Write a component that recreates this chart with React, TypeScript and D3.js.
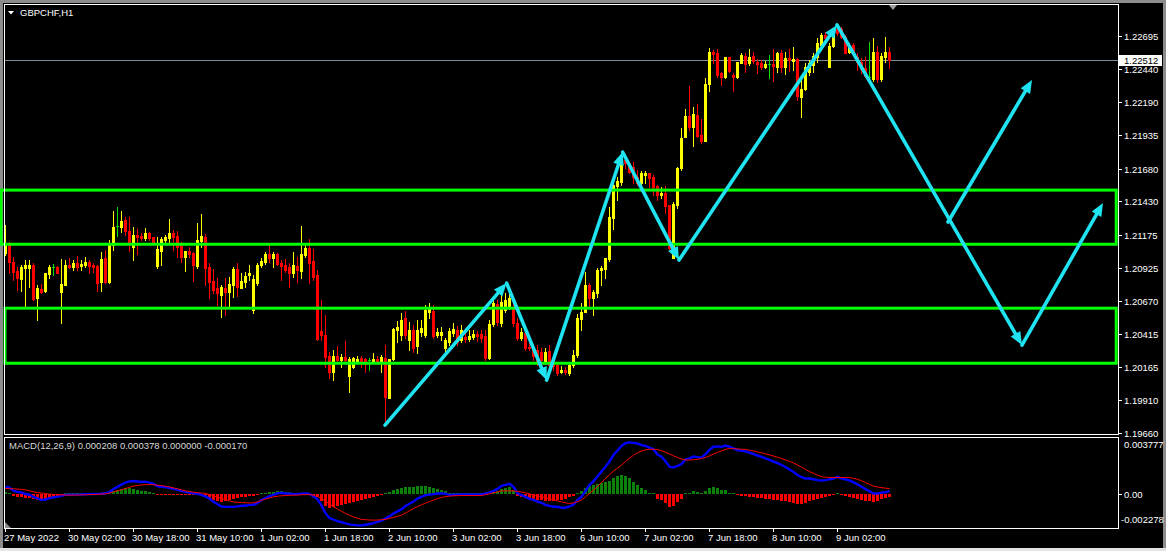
import React from "react";
import * as d3 from "d3";

const symbolTitle = "GBPCHF,H1";
const macdTitle = "MACD(12,26,9) 0.000208 0.000378 0.000000 -0.000170";

// H1 bars, 27 May 2022 10:00 .. 9 Jun 2022 15:00 : [open, high, low, close]
const ohlc: [number, number, number, number][] = [
  [1.21036, 1.2125, 1.21021, 1.21112], [1.21097, 1.2112, 1.20883, 1.20967], [1.20967, 1.21005, 1.20829, 1.20891], [1.20898, 1.20928, 1.20753, 1.20845],
  [1.20837, 1.20944, 1.20745, 1.20928], [1.20921, 1.20982, 1.20622, 1.20944], [1.20921, 1.20982, 1.20775, 1.20944], [1.20944, 1.20959, 1.20676, 1.20684],
  [1.20692, 1.20791, 1.20523, 1.20768], [1.2076, 1.20798, 1.2073, 1.20738], [1.20745, 1.20883, 1.20738, 1.20883], [1.20875, 1.20944, 1.20845, 1.20928],
  [1.20928, 1.20951, 1.20868, 1.20928], [1.20928, 1.20936, 1.20883, 1.20883], [1.20738, 1.2099, 1.205, 1.20798], [1.20791, 1.20982, 1.20791, 1.20944],
  [1.20944, 1.20998, 1.20921, 1.20928], [1.20928, 1.20982, 1.20906, 1.20959], [1.20959, 1.21013, 1.20906, 1.20928], [1.20936, 1.20982, 1.20906, 1.20951],
  [1.20944, 1.21005, 1.20928, 1.20967], [1.20967, 1.20982, 1.20883, 1.20936], [1.20944, 1.20959, 1.20891, 1.20928], [1.20936, 1.20944, 1.20745, 1.20806],
  [1.20814, 1.21044, 1.20745, 1.2099], [1.20998, 1.21059, 1.20806, 1.20814], [1.20814, 1.21135, 1.20806, 1.21097], [1.21097, 1.21357, 1.21059, 1.21234],
  [1.21242, 1.21387, 1.21166, 1.21242], [1.21234, 1.21357, 1.21197, 1.2128], [1.21288, 1.21311, 1.21174, 1.21204], [1.21204, 1.21311, 1.21051, 1.21112],
  [1.21081, 1.21234, 1.20982, 1.21174], [1.21174, 1.21219, 1.21028, 1.21158], [1.21166, 1.21189, 1.21135, 1.21151], [1.21151, 1.21227, 1.21135, 1.21189],
  [1.21189, 1.21197, 1.21135, 1.21151], [1.21158, 1.21158, 1.21097, 1.21112], [1.20936, 1.21158, 1.20921, 1.21066], [1.21051, 1.21158, 1.20944, 1.21143],
  [1.21135, 1.21174, 1.2112, 1.21158], [1.21151, 1.21296, 1.2112, 1.21189], [1.21189, 1.21212, 1.21059, 1.21158], [1.21166, 1.21204, 1.21005, 1.21081],
  [1.21097, 1.2112, 1.20967, 1.21005], [1.21005, 1.21051, 1.20898, 1.21051], [1.21051, 1.21081, 1.21005, 1.21028], [1.21036, 1.21044, 1.20821, 1.20944],
  [1.20936, 1.21265, 1.20921, 1.21135], [1.21127, 1.21334, 1.21081, 1.21166], [1.21158, 1.21181, 1.20791, 1.20921], [1.20928, 1.20959, 1.20692, 1.20814],
  [1.20821, 1.20913, 1.2073, 1.20753], [1.20768, 1.20845, 1.20638, 1.2073], [1.20715, 1.20791, 1.20546, 1.20775], [1.20768, 1.20845, 1.20562, 1.20738],
  [1.20738, 1.20852, 1.20622, 1.20798], [1.20791, 1.20928, 1.20699, 1.20913], [1.20913, 1.20959, 1.20707, 1.20775], [1.20768, 1.20883, 1.20768, 1.20821],
  [1.20814, 1.20891, 1.20775, 1.2086], [1.20868, 1.20944, 1.20829, 1.20883], [1.206, 1.20868, 1.20577, 1.20837], [1.20806, 1.20959, 1.20791, 1.20944],
  [1.20944, 1.20998, 1.20928, 1.20974], [1.20967, 1.21044, 1.20951, 1.21028], [1.21028, 1.21097, 1.20967, 1.20998], [1.20998, 1.21044, 1.20928, 1.21028],
  [1.21028, 1.21036, 1.20944, 1.20951], [1.20959, 1.20982, 1.20829, 1.20936], [1.20944, 1.2099, 1.20891, 1.20906], [1.20928, 1.20959, 1.20775, 1.20883],
  [1.20883, 1.21044, 1.20852, 1.20944], [1.20936, 1.21005, 1.20814, 1.20906], [1.20898, 1.21242, 1.20845, 1.21028], [1.21021, 1.21097, 1.21005, 1.21074],
  [1.21074, 1.21143, 1.20806, 1.20959], [1.20974, 1.21066, 1.20829, 1.20852], [1.20868, 1.20906, 1.2037, 1.20378], [1.20439, 1.20676, 1.2037, 1.20409],
  [1.20409, 1.20562, 1.20163, 1.2024], [1.20248, 1.20279, 1.2008, 1.20126], [1.20126, 1.20294, 1.20064, 1.20248], [1.20248, 1.20324, 1.20202, 1.20217],
  [1.20217, 1.20263, 1.20163, 1.2024], [1.2024, 1.20362, 1.20202, 1.20217], [1.20095, 1.2024, 1.19972, 1.20225], [1.20163, 1.2024, 1.20156, 1.20233],
  [1.20209, 1.20248, 1.20194, 1.20225], [1.20233, 1.20248, 1.20163, 1.20202], [1.20225, 1.20233, 1.20126, 1.20209], [1.20217, 1.20233, 1.20141, 1.20217],
  [1.20202, 1.20271, 1.20194, 1.20225], [1.20225, 1.20248, 1.20202, 1.20209], [1.20209, 1.20256, 1.20126, 1.2024], [1.20233, 1.20332, 1.1972, 1.19934],
  [1.19926, 1.20225, 1.19926, 1.20225], [1.20225, 1.20462, 1.20217, 1.20454], [1.20447, 1.20515, 1.20355, 1.20469], [1.20409, 1.20577, 1.2037, 1.20523],
  [1.20539, 1.20592, 1.20386, 1.20409], [1.2037, 1.20508, 1.20294, 1.20447], [1.20447, 1.20485, 1.20279, 1.20309], [1.20324, 1.20523, 1.20271, 1.20447],
  [1.20431, 1.20523, 1.20401, 1.20462], [1.20409, 1.20638, 1.20393, 1.206], [1.20585, 1.20653, 1.20539, 1.20607], [1.20592, 1.20638, 1.20386, 1.20401],
  [1.20409, 1.20462, 1.20393, 1.20431], [1.20409, 1.20469, 1.2037, 1.20431], [1.20309, 1.20386, 1.20271, 1.2037], [1.20355, 1.20462, 1.20332, 1.20439],
  [1.20424, 1.205, 1.20401, 1.20454], [1.20447, 1.20477, 1.20332, 1.20355], [1.2037, 1.20485, 1.20355, 1.20447], [1.20393, 1.20431, 1.20355, 1.20378],
  [1.20378, 1.20447, 1.20362, 1.20401], [1.20393, 1.20447, 1.20378, 1.20416], [1.20416, 1.20439, 1.20362, 1.20401], [1.20416, 1.20447, 1.20355, 1.20386],
  [1.20401, 1.20447, 1.20217, 1.20233], [1.20233, 1.20523, 1.20225, 1.20492], [1.20492, 1.20692, 1.20477, 1.20653], [1.20645, 1.20676, 1.20485, 1.20508],
  [1.205, 1.20715, 1.20477, 1.20661], [1.206, 1.2073, 1.20585, 1.20676], [1.20622, 1.20753, 1.20607, 1.20692], [1.20615, 1.20645, 1.20477, 1.205],
  [1.205, 1.20539, 1.2037, 1.20386], [1.20386, 1.20462, 1.2037, 1.20431], [1.20424, 1.20447, 1.20294, 1.20309], [1.20316, 1.20355, 1.20294, 1.20309],
  [1.20309, 1.20339, 1.20217, 1.20248], [1.20294, 1.20332, 1.20179, 1.20194], [1.20279, 1.20309, 1.20171, 1.20217], [1.20202, 1.20309, 1.20186, 1.20279],
  [1.20286, 1.20332, 1.20126, 1.20179], [1.20217, 1.20256, 1.20141, 1.20171], [1.20179, 1.20202, 1.20103, 1.20118], [1.20126, 1.20171, 1.20118, 1.20141],
  [1.20141, 1.20163, 1.2011, 1.20126], [1.20118, 1.20202, 1.20103, 1.20179], [1.20179, 1.20294, 1.20163, 1.20256], [1.20256, 1.20569, 1.2024, 1.20539],
  [1.20531, 1.20653, 1.20447, 1.20585], [1.20585, 1.20891, 1.20585, 1.20791], [1.20791, 1.20806, 1.20622, 1.20692], [1.20692, 1.20753, 1.20562, 1.20738],
  [1.2073, 1.20921, 1.20699, 1.20906], [1.20906, 1.20936, 1.20791, 1.20921], [1.20913, 1.20998, 1.20845, 1.20998], [1.2099, 1.21387, 1.20974, 1.21311],
  [1.21304, 1.21594, 1.21219, 1.21556], [1.21548, 1.21617, 1.21441, 1.21586], [1.21579, 1.21786, 1.21556, 1.21732], [1.21747, 1.21763, 1.21686, 1.21724],
  [1.21724, 1.21732, 1.21648, 1.21655], [1.21693, 1.21732, 1.21571, 1.21617], [1.21617, 1.21671, 1.21556, 1.21571], [1.21571, 1.21663, 1.21533, 1.21648],
  [1.21632, 1.21663, 1.21571, 1.21648], [1.21648, 1.21648, 1.2154, 1.21609], [1.21617, 1.21632, 1.2148, 1.2154], [1.21548, 1.21556, 1.21441, 1.2148],
  [1.2148, 1.2154, 1.21457, 1.21495], [1.21495, 1.21548, 1.21342, 1.21395], [1.21403, 1.21403, 1.21066, 1.21074], [1.20998, 1.21426, 1.20998, 1.2141],
  [1.21403, 1.21693, 1.2138, 1.21686], [1.21686, 1.21992, 1.21671, 1.21915], [1.21923, 1.22137, 1.21923, 1.22084], [1.22084, 1.22313, 1.21977, 1.22],
  [1.22, 1.22153, 1.21854, 1.22099], [1.22091, 1.22175, 1.21923, 1.21931], [1.21938, 1.22061, 1.21877, 1.21892], [1.21892, 1.22374, 1.21892, 1.22328],
  [1.22328, 1.22604, 1.22275, 1.22573], [1.22573, 1.22589, 1.22489, 1.22558], [1.22566, 1.22596, 1.22382, 1.22397], [1.22413, 1.2242, 1.22321, 1.22382],
  [1.22382, 1.22535, 1.22374, 1.22535], [1.22535, 1.22535, 1.2242, 1.22428], [1.22397, 1.22413, 1.22275, 1.22382], [1.22382, 1.22497, 1.22374, 1.22497],
  [1.22489, 1.22566, 1.22489, 1.2255], [1.22543, 1.22566, 1.2242, 1.22481], [1.22489, 1.22596, 1.22474, 1.22535], [1.22543, 1.22573, 1.22489, 1.22504],
  [1.22497, 1.2252, 1.22413, 1.22481], [1.22489, 1.22512, 1.22443, 1.22458], [1.22458, 1.22504, 1.22451, 1.22481], [1.22481, 1.2255, 1.22374, 1.22481],
  [1.22481, 1.22596, 1.22351, 1.22466], [1.22458, 1.22573, 1.2242, 1.22566], [1.22566, 1.22589, 1.2242, 1.22458], [1.22458, 1.22573, 1.22405, 1.22527],
  [1.22527, 1.22596, 1.22428, 1.22512], [1.22504, 1.22611, 1.22436, 1.2252], [1.2252, 1.22527, 1.22206, 1.22237], [1.22229, 1.22359, 1.22076, 1.2229],
  [1.2229, 1.22489, 1.22283, 1.22458], [1.2242, 1.22512, 1.22397, 1.22489], [1.22474, 1.22566, 1.2242, 1.22543], [1.22535, 1.2268, 1.22497, 1.22642],
  [1.22627, 1.22719, 1.22589, 1.22703], [1.22703, 1.22726, 1.2265, 1.2268], [1.22458, 1.22642, 1.22458, 1.22619], [1.22619, 1.22757, 1.22611, 1.22741],
  [1.22749, 1.2278, 1.22703, 1.22719], [1.22749, 1.22764, 1.2268, 1.22688], [1.22688, 1.22703, 1.22566, 1.22566], [1.22573, 1.22642, 1.22566, 1.22619],
  [1.22627, 1.22642, 1.2255, 1.22566], [1.22535, 1.22566, 1.22436, 1.22497], [1.22497, 1.22527, 1.22413, 1.22443], [1.22451, 1.22535, 1.22382, 1.2239],
  [1.22382, 1.2265, 1.22374, 1.22382], [1.22367, 1.2268, 1.22351, 1.22573], [1.22573, 1.22619, 1.22344, 1.22367], [1.22367, 1.22566, 1.22351, 1.22543],
  [1.22535, 1.22688, 1.22497, 1.22573], [1.22573, 1.22611, 1.22451, 1.22512],
];

const macdMain = [
  0.00051, 0.00044, 0.00023, 0.00014, 0.00012, 0.00001, -0.00004, -0.00019, -0.00029, -0.0004,
  -0.00036, -0.00027, -0.00022, -0.00017, -0.00012, -0.00003, -0.00004, -0.00003, -0.00003, -0.00002,
  -0.00001, 0, 0.00001, 0.00002, 0.00003, 0.00006, 0.00014, 0.00035, 0.00049, 0.00064,
  0.00078, 0.00086, 0.00088, 0.00085, 0.00082, 0.00084, 0.00078, 0.0007, 0.00053, 0.0005,
  0.00047, 0.00041, 0.00035, 0.00029, 0.00022, 0.00015, 0.0001, 0.00006, 0.00003, -0.00006,
  -0.00015, -0.0003, -0.00052, -0.00068, -0.00083, -0.00085, -0.00086, -0.00086, -0.00082, -0.00077,
  -0.00078, -0.00072, -0.00072, -0.00059, -0.00039, -0.00026, -0.00013, -0.00005, 0.00006, 0.00009,
  0.00004, 0.00005, 0, 0.00001, 0.00003, 0.00004, 0.00001, -0.00015, -0.00035, -0.00076,
  -0.00128, -0.0016, -0.00172, -0.00181, -0.00189, -0.00197, -0.00203, -0.00207, -0.00209, -0.0021,
  -0.00206, -0.00201, -0.00195, -0.00187, -0.00179, -0.00163, -0.0015, -0.0013, -0.00116, -0.00101,
  -0.0008, -0.00065, -0.00049, -0.0003, -0.00018, -0.00007, -0.00003, 0, 0.00004, 0.00005,
  0.00003, -0.00006, -0.00004, -0.00003, -0.00002, -0.00002, -0.00002, -0.00002, -0.00002, -0.00002,
  0.00004, 0.0001, 0.00022, 0.00035, 0.00056, 0.00062, 0.00069, 0.00049, 0.00005, -0.00006,
  -0.00018, -0.00032, -0.00039, -0.00051, -0.00058, -0.00072, -0.00079, -0.00085, -0.00085, -0.00092,
  -0.00092, -0.00083, -0.00071, -0.00039, -0.00018, 0.00022, 0.00061, 0.00088, 0.00119, 0.00152,
  0.00185, 0.0022, 0.00263, 0.00294, 0.00325, 0.00343, 0.00348, 0.00345, 0.00341, 0.0033,
  0.00325, 0.00313, 0.00302, 0.00266, 0.00252, 0.00221, 0.00185, 0.00179, 0.0019, 0.00202,
  0.00233, 0.00241, 0.00253, 0.00249, 0.00245, 0.00269, 0.00298, 0.00319, 0.00321, 0.00318,
  0.00327, 0.00319, 0.00308, 0.00297, 0.00292, 0.00288, 0.00279, 0.0027, 0.0026, 0.00251,
  0.00241, 0.0023, 0.00219, 0.00208, 0.00196, 0.00183, 0.00166, 0.00149, 0.00129, 0.00115,
  0.00105, 0.00105, 0.001, 0.00094, 0.00091, 0.00094, 0.00099, 0.00105, 0.00117, 0.00105,
  0.00099, 0.00092, 0.00079, 0.00066, 0.0005, 0.00034, 0.00019, 0.00004, 0.00004, 0.0001,
  0.00013, 0.000208,
];

const macdSignal = [
  0.00038, 0.00037, 0.00036, 0.00034, 0.00032, 0.00028, 0.00023, 0.00015, 0.00011, 0.00007,
  0.00004, 0, -0.00002, -0.00004, -0.00005, -0.00006, -0.00007, -0.00006, -0.00006, -0.00005,
  -0.00004, -0.00003, -0.00002, -0.00001, 0, 0.00003, 0.00007, 0.00015, 0.00022, 0.0003,
  0.00038, 0.00046, 0.00054, 0.00058, 0.00062, 0.00064, 0.00065, 0.00063, 0.0006, 0.00057,
  0.00054, 0.00048, 0.00042, 0.00036, 0.00029, 0.00022, 0.00017, 0.00013, 0.0001, 0.00007,
  0.00005, -0.00003, -0.00012, -0.00021, -0.00029, -0.00038, -0.00046, -0.00052, -0.00055, -0.00057,
  -0.00058, -0.00059, -0.00059, -0.00052, -0.00042, -0.00033, -0.00026, -0.00018, -0.00014, -0.00011,
  -0.00009, -0.00008, -0.00007, -0.00006, -0.00004, -0.00003, -0.00002, -0.00008, -0.00015, -0.00029,
  -0.00047, -0.00066, -0.00085, -0.001, -0.00115, -0.0013, -0.00142, -0.00153, -0.00162, -0.0017,
  -0.00172, -0.00174, -0.00175, -0.00174, -0.00172, -0.0017, -0.00163, -0.00157, -0.0015, -0.00141,
  -0.00127, -0.00112, -0.00096, -0.00084, -0.00072, -0.00061, -0.0005, -0.0004, -0.0003, -0.00022,
  -0.00017, -0.00013, -0.00011, -0.0001, -0.00009, -0.00009, -0.00009, -0.00009, -0.00009, -0.00009,
  -0.00003, 0.00003, 0.00009, 0.00015, 0.00022, 0.00022, 0.00022, 0.00022, 0.00018, 0.00014,
  0.00009, 0.00002, -0.00005, -0.00011, -0.00018, -0.00025, -0.00032, -0.00038, -0.00045, -0.00052,
  -0.00058, -0.00063, -0.00058, -0.0005, -0.0004, -0.00018, 0.00005, 0.00027, 0.00052, 0.00078,
  0.00106, 0.0013, 0.00155, 0.00175, 0.00195, 0.0022, 0.00242, 0.00262, 0.00278, 0.0029,
  0.00298, 0.00302, 0.00302, 0.003, 0.00292, 0.00282, 0.0027, 0.00258, 0.00246, 0.00236,
  0.0023, 0.0023, 0.00231, 0.00234, 0.0024, 0.00247, 0.00258, 0.0027, 0.00281, 0.00291,
  0.003, 0.00308, 0.00306, 0.00304, 0.00302, 0.00301, 0.00296, 0.0029, 0.00284, 0.00278,
  0.00271, 0.00264, 0.00256, 0.00248, 0.0024, 0.0023, 0.0022, 0.0021, 0.00196, 0.00182,
  0.00166, 0.00152, 0.0014, 0.00128, 0.00118, 0.00114, 0.00112, 0.00112, 0.00112, 0.00112,
  0.00112, 0.00112, 0.00106, 0.001, 0.0009, 0.00078, 0.00066, 0.00054, 0.00048, 0.00044,
  0.0004, 0.000378,
];

const timeLabels = ["27 May 2022", "30 May 02:00", "30 May 18:00", "31 May 10:00", "1 Jun 02:00", "1 Jun 18:00", "2 Jun 10:00", "3 Jun 02:00", "3 Jun 18:00", "6 Jun 10:00", "7 Jun 02:00", "7 Jun 18:00", "8 Jun 10:00", "9 Jun 02:00"];
const timeLabelBars = [0, 16, 32, 48, 64, 80, 96, 112, 128, 144, 160, 176, 192, 208];

const priceLabels = [1.22695, 1.2244, 1.2219, 1.21935, 1.2168, 1.2143, 1.21175, 1.20925, 1.2067, 1.20415, 1.20165, 1.1991, 1.1966];
const priceDomain = [1.19652, 1.2294];
const bidPrice = 1.22512;
const macdDomain = [-0.002278, 0.003777];

// support / resistance zones (price bands, bar span)
const zoneTop = [1.21517, 1.20614];
const zoneBottom = [1.21103, 1.20193];
const zoneFromBar = [-1, 0];
const zoneToBar = [277.8, 277.8];

// drawn arrows: [bar index, price] start -> end
const arrows: [number, number][][] = [
  [[95, 1.1972], [125.4, 1.20806]],
  [[125.4, 1.20806], [135.4, 1.20064]],
  [[135.4, 1.20064], [154.4, 1.21808]],
  [[154.4, 1.21808], [168.5, 1.20982]],
  [[168.5, 1.20982], [208, 1.2278]],
  [[208, 1.2278], [254.25, 1.20332]],
  [[235.75, 1.21273], [256.75, 1.22359]],
  [[254.25, 1.20332], [274.5, 1.21418]],
];

const W = 1166;
const H = 551;
const L = 4;
const R = 1118;
const MAIN_T = 4;
const MAIN_B = 434;
const MACD_T = 438;
const MACD_B = 528;
const FONT = "'Liberation Sans', Arial, sans-serif";

const UP = "#ffff00";
const DN = "#ff0000";
const DOJI = "#00e000";
const ARROW = "#1fe3f0";
const ZONE = "#00ff00";

export default function App() {
  const x = d3.scaleLinear().domain([0, ohlc.length - 1]).range([5, 5 + 4 * (ohlc.length - 1)]);
  const y = d3.scaleLinear().domain(priceDomain).range([MAIN_B, MAIN_T]);
  const my = d3.scaleLinear().domain(macdDomain).range([MACD_B, MACD_T]);

  const macdLine = d3
    .line<number>()
    .x((_, i) => x(i) + 0.5)
    .y((d) => my(d));

  const hist = macdMain.map((m, i) => m - macdSignal[i]);
  const zeroY = Math.round(my(0));

  const arrowEls = arrows.map((seg, k) => {
    const [x0, y0] = [x(seg[0][0]), y(seg[0][1])];
    const [x1, y1] = [x(seg[1][0]), y(seg[1][1])];
    const dx = x1 - x0;
    const dy = y1 - y0;
    const len = Math.hypot(dx, dy);
    const ux = dx / len;
    const uy = dy / len;
    const hl = 13;
    const hw = 5.5;
    const bx = x1 - ux * hl;
    const by = y1 - uy * hl;
    const pts = [
      [x1, y1],
      [bx - uy * hw, by + ux * hw],
      [bx + uy * hw, by - ux * hw],
    ]
      .map((p) => p.join(","))
      .join(" ");
    return (
      <g key={"a" + k}>
        <line x1={x0} y1={y0} x2={bx + ux * 2} y2={by + uy * 2} stroke={ARROW} strokeWidth={3.6} strokeLinecap="round" />
        <polygon points={pts} fill={ARROW} />
      </g>
    );
  });

  return (
    <svg
      width={W}
      height={H}
      style={{ position: "fixed", left: 0, top: 0, display: "block" }}
      fontFamily={FONT}
    >
      <rect x={0} y={0} width={W} height={H} fill="#000" />
      {/* window frame */}
      <rect x={0} y={0} width={W} height={3} fill="#8c8c8c" />
      <rect x={0} y={0} width={3} height={548} fill="#8c8c8c" />
      <rect x={1163} y={0} width={3} height={548} fill="#8c8c8c" />
      <rect x={0} y={548} width={W} height={3} fill="#e4e4e4" />

      <defs>
        <clipPath id="mainClip">
          <rect x={0} y={MAIN_T + 1} width={R} height={MAIN_B - MAIN_T - 1} />
        </clipPath>
        <clipPath id="macdClip">
          <rect x={L + 1} y={MACD_T} width={R - L - 1} height={MACD_B - MACD_T} />
        </clipPath>
      </defs>

      {/* bid line */}
      <line x1={L} x2={R} y1={Math.round(y(bidPrice)) + 0.5} y2={Math.round(y(bidPrice)) + 0.5} stroke="#7d8a99" strokeWidth={1} />

      {/* candles */}
      <g shapeRendering="crispEdges">
        {ohlc.map(([o, h, l, c], i) => {
          const cx = Math.round(x(i));
          const color = c > o ? UP : c < o ? DN : DOJI;
          const yh = Math.round(y(h));
          const yl = Math.round(y(l));
          const t = Math.round(y(Math.max(o, c)));
          const b = Math.round(y(Math.min(o, c)));
          return (
            <g key={i}>
              <rect x={cx} y={yh} width={1} height={Math.max(1, yl - yh + 1)} fill={color} />
              <rect x={cx - 1} y={t} width={3} height={Math.max(1, b - t + 1)} fill={color} />
            </g>
          );
        })}
      </g>

      {/* zones */}
      <g clipPath="url(#mainClip)">
        {zoneTop.map((t, k) => (
          <rect
            key={"z" + k}
            x={x(zoneFromBar[k])}
            y={y(t)}
            width={x(zoneToBar[k]) - x(zoneFromBar[k])}
            height={y(zoneBottom[k]) - y(t)}
            fill="none"
            stroke={ZONE}
            strokeWidth={3}
          />
        ))}
      </g>

      {/* arrows */}
      <g clipPath="url(#mainClip)">{arrowEls}</g>

      {/* MACD histogram */}
      <g shapeRendering="crispEdges" clipPath="url(#macdClip)">
        {hist.map((v, i) => {
          const cx = Math.round(x(i));
          const yv = Math.round(my(v));
          const top = v >= 0 ? Math.min(yv, zeroY - 1) : zeroY;
          const hgt = v >= 0 ? zeroY - top : Math.max(1, yv - zeroY);
          return <rect key={"h" + i} x={cx - 1} y={top} width={3} height={hgt} fill={v >= 0 ? "#0b800b" : "#ff0000"} />;
        })}
      </g>
      <g clipPath="url(#macdClip)">
        <path d={macdLine(macdMain) || ""} fill="none" stroke="#0000ff" strokeWidth={2.4} />
        <path d={macdLine(macdSignal) || ""} fill="none" stroke="#ff0000" strokeWidth={1} />
      </g>

      {/* frames */}
      <g shapeRendering="crispEdges" fill="none" stroke="#fff" strokeWidth={1}>
        <rect x={L + 0.5} y={MAIN_T + 0.5} width={R - L} height={MAIN_B - MAIN_T} />
        <rect x={L + 0.5} y={MACD_T - 0.5} width={R - L} height={MACD_B - MACD_T + 1} />
      </g>

      {/* price axis */}
      <g shapeRendering="crispEdges">
        {priceLabels.map((p, k) => {
          const yy = Math.round(y(p));
          return <line key={"pt" + k} x1={R} x2={R + 4} y1={yy + 0.5} y2={yy + 0.5} stroke="#fff" />;
        })}
      </g>
      {priceLabels.map((p, k) => (
        <text key={"pl" + k} x={1124} y={Math.round(y(p)) + 3.5} fill="#fff" fontSize={9.5}>
          {p.toFixed(5)}
        </text>
      ))}
      <rect x={R + 1} y={Math.round(y(bidPrice)) - 5} width={43} height={11} fill="#fff" />
      <text x={1124} y={Math.round(y(bidPrice)) + 4} fill="#000" fontSize={9.5}>
        {bidPrice.toFixed(5)}
      </text>

      {/* MACD axis */}
      <line x1={R} x2={R + 4} y1={zeroY + 0.5} y2={zeroY + 0.5} stroke="#fff" shapeRendering="crispEdges" />
      <text x={1124} y={my(macdDomain[1]) + 10} fill="#fff" fontSize={9.5}>
        {macdDomain[1].toFixed(6)}
      </text>
      <text x={1124} y={zeroY + 4} fill="#fff" fontSize={9.5}>
        {(0).toFixed(2)}
      </text>
      <text x={1121} y={my(macdDomain[0]) - 5} fill="#fff" fontSize={9.5}>
        {macdDomain[0].toFixed(6)}
      </text>

      {/* time axis */}
      <g shapeRendering="crispEdges">
        {timeLabelBars.map((b, k) => (
          <line key={"tt" + k} x1={Math.round(x(b)) + 0.5} x2={Math.round(x(b)) + 0.5} y1={MACD_B} y2={MACD_B + 4} stroke="#fff" />
        ))}
      </g>
      {timeLabels.map((t, k) => (
        <text key={"tl" + k} x={Math.round(x(timeLabelBars[k])) - 1} y={541} fill="#fff" fontSize={9.5}>
          {t}
        </text>
      ))}

      {/* titles */}
      <polygon points="8,11 14,11 11,14.5" fill="#fff" />
      <text x={20} y={16} fill="#fff" fontSize={9.5}>
        {symbolTitle}
      </text>
      <text x={9} y={449} fill="#d8d8d8" fontSize={9.5}>
        {macdTitle}
      </text>

      {/* chart shift marker and corner marks */}
      <polygon points="889,5 897,5 893,10" fill="#a0a0a0" />
      <polygon points="5,522 5,528 11,528" fill="#8c8c8c" />
    </svg>
  );
}
